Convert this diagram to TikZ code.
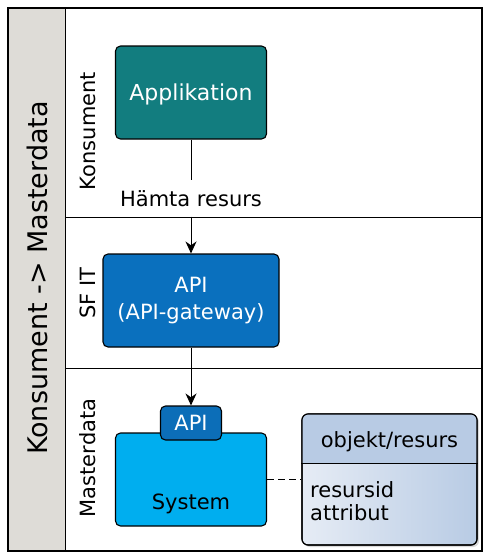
\documentclass[tikz,border=0pt]{standalone}
\usepackage{fontspec}
\setmainfont{DejaVu Sans}
\usetikzlibrary{arrows.meta,shadows}

\definecolor{poolgrey}{RGB}{222,220,215}
\definecolor{appteal}{RGB}{18,125,127}
\definecolor{gwblue}{RGB}{10,112,190}
\definecolor{apiblue}{RGB}{12,110,184}
\definecolor{sysblue}{RGB}{0,174,239}
\definecolor{enthead}{RGB}{184,203,228}
\definecolor{entlight}{RGB}{230,236,245}

\begin{document}
\begin{tikzpicture}[x=1pt,y=-1pt]
		\tikzstyle{every node}+=[inner sep=0pt, font=\fontsize{21}{27}\selectfont]
		\tikzstyle{task}=[draw=black, line width=1.1pt, rounded corners=5pt, text=white, align=center]
		\tikzstyle{lanelabel}=[rotate=90]
		\tikzstyle{flow}=[black, line width=1pt, -{Stealth[length=12pt,width=11pt]}]
		\useasboundingbox (0,0) rectangle (490,560);
		% pool and lanes
		\fill [poolgrey] (8,8) rectangle (65,551);
		\draw [black, line width=1.3pt] (8,8) rectangle (482,551);
		\draw [black, line width=1pt] (65,8) -- (65,551);
		\draw [black, line width=1pt] (65,217) -- (482,217);
		\draw [black, line width=1pt] (65,368) -- (482,368);
		\node [lanelabel, font=\fontsize{27}{30}\selectfont] (pool) at (37,278) {Konsument -> Masterdata};
		\node [lanelabel] (konsument) at (88,131) {Konsument};
		\node [lanelabel] (sfit) at (88,293) {SF IT};
		\node [lanelabel] (masterdata) at (88,458) {Masterdata};
		% tasks
		\node [task, fill=appteal, minimum width=151, minimum height=93, text depth=0pt, font=\fontsize{22}{27}\selectfont] (app) at (191,92.5) {Applikation};
		\node [inner xsep=2pt, inner ysep=10pt, anchor=base] (hamta) at (191,206) {Hämta resurs};
		\node [task, fill=gwblue, minimum width=176, minimum height=93] (gw) at (191,300.5) {API\\(API-gateway)};
		\node [task, fill=sysblue, minimum width=151, minimum height=93] (sys) at (191,479.5) {};
		\node [anchor=base] (systxt) at (191,509) {System};
		\node [task, fill=apiblue, minimum width=61, minimum height=34] (api) at (191,423) {API};
		% entity
		\node [draw=black, line width=1.1pt, rounded corners=6pt, minimum width=175, minimum height=131,
			left color=entlight, right color=enthead,
			drop shadow={opacity=0.3, shadow xshift=2pt, shadow yshift=-2pt}] (ent) at (389.5,479.5) {};
		\begin{scope}
			\clip (302,414) rectangle (477,463);
			\fill [enthead, rounded corners=6pt] (302,414) rectangle (477,545);
		\end{scope}
		\draw [black, line width=1.1pt, rounded corners=6pt] (302,414) rectangle (477,545);
		\draw [black, line width=1pt] (ent.west |- 0,463) -- (ent.east |- 0,463);
		\node [anchor=base] (enttitle) at (389.5,447) {objekt/resurs};
		\node [anchor=base west, align=left, font=\fontsize{21}{23}\selectfont] (entattr) at (310,520) {resursid\\attribut};
		% connectors
		\draw [black, line width=1pt] (app) -- (hamta);
		\draw [flow] (hamta) -- (gw);
		\draw [flow] (gw) -- (api);
		\draw [black, line width=1pt, dash pattern=on 7pt off 4pt] (sys) -- (ent);
	\end{tikzpicture}
\end{document}
